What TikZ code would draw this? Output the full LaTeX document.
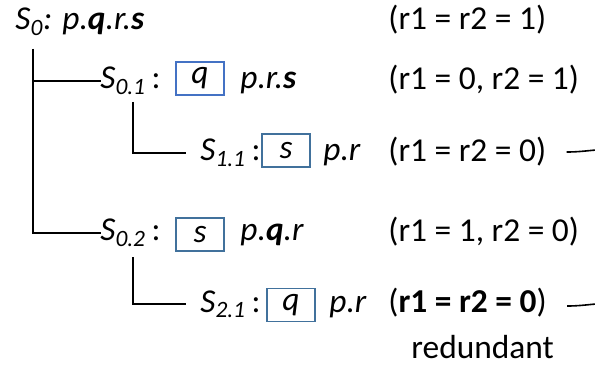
\documentclass[tikz,border=0pt]{standalone}
\usepackage{fontspec}
\setmainfont{Carlito}
\usepackage{xcolor}
\usetikzlibrary{positioning}

\definecolor{boxblue}{HTML}{41719C}
\definecolor{boxlight}{HTML}{4472C4}
\newcommand{\St}[1]{\textit{S\textsubscript{#1}}}

\begin{document}
\begin{tikzpicture}[x=0.5pt,y=-0.5pt,
  every node/.style={font=\fontsize{16.7}{20}\selectfont,inner sep=1pt},
  lbl/.style={anchor=base west},
  hold/.style={draw=boxblue,line width=0.9pt,minimum width=24pt,minimum height=16.5pt,inner sep=0pt},
  tree/.style={line width=0.9pt},
  tail/.style={line width=0.8pt}]
\useasboundingbox (0,0) rectangle (595,369);
% root
\node[lbl] (s0) at (13,30) {\St{0}\textit{: p.\textbf{q}.r.\textbf{s}}};
\node[lbl] (c0) at (386,30) {(r1 = r2 = 1)};
% first branch
\node[lbl] (s01) at (98,89) {\St{0.1}\,:};
\node[hold,draw=boxlight] (q01) at (200,78.5) {\textit{q}};
\node[lbl] (t01) at (238,89) {\textit{p.r.\textbf{s}}};
\node[lbl] (c01) at (386,90) {(r1 = 0, r2 = 1)};
\node[lbl] (s11) at (198,161) {\St{1.1}\,:};
\node[hold] (s11b) at (286,150.5) {\textit{s}};
\node[lbl] (t11) at (321,161) {\textit{p.r}};
\node[lbl] (c11) at (386,162) {(r1 = r2 = 0)};
% second branch
\node[lbl] (s02) at (98,241) {\St{0.2}\,:};
\node[hold] (s02b) at (200,234.5) {\textit{s}};
\node[lbl] (t02) at (238,241) {\textit{p.\textbf{q}.r}};
\node[lbl] (c02) at (386,242) {(r1 = 1, r2 = 0)};
\node[lbl] (s21) at (198,312) {\St{2.1}\,:};
\node[hold] (q21) at (291,305) {\textit{q}};
\node[lbl] (t21) at (327,312) {\textit{p.r}};
\node[lbl] (c21) at (386,313) {(\textbf{r1 = r2 = 0})};
\node[lbl] (red) at (409,358) {redundant};
% tree lines
\coordinate (v0) at (33,49);
\coordinate (v1) at (133,102);
\coordinate (v2) at (133,257);
\draw[tree] (v0) |- ([xshift=1.5pt]s01.west);
\draw[tree] (v0) |- ([xshift=1.5pt]s02.west);
\draw[tree] (v1) |- ([xshift=-6pt]s11.west);
\draw[tree] (v2) |- ([xshift=-6pt]s21.west);
% cut-off tails on the right
\coordinate (e11) at (596,150);
\coordinate (e21) at (596,304);
\draw[tail] ([xshift=9pt]c11.east |- 0,152) to[out=0,in=185] (e11);
\draw[tail] ([xshift=9pt]c21.east |- 0,306) to[out=0,in=185] (e21);
\end{tikzpicture}
\end{document}
